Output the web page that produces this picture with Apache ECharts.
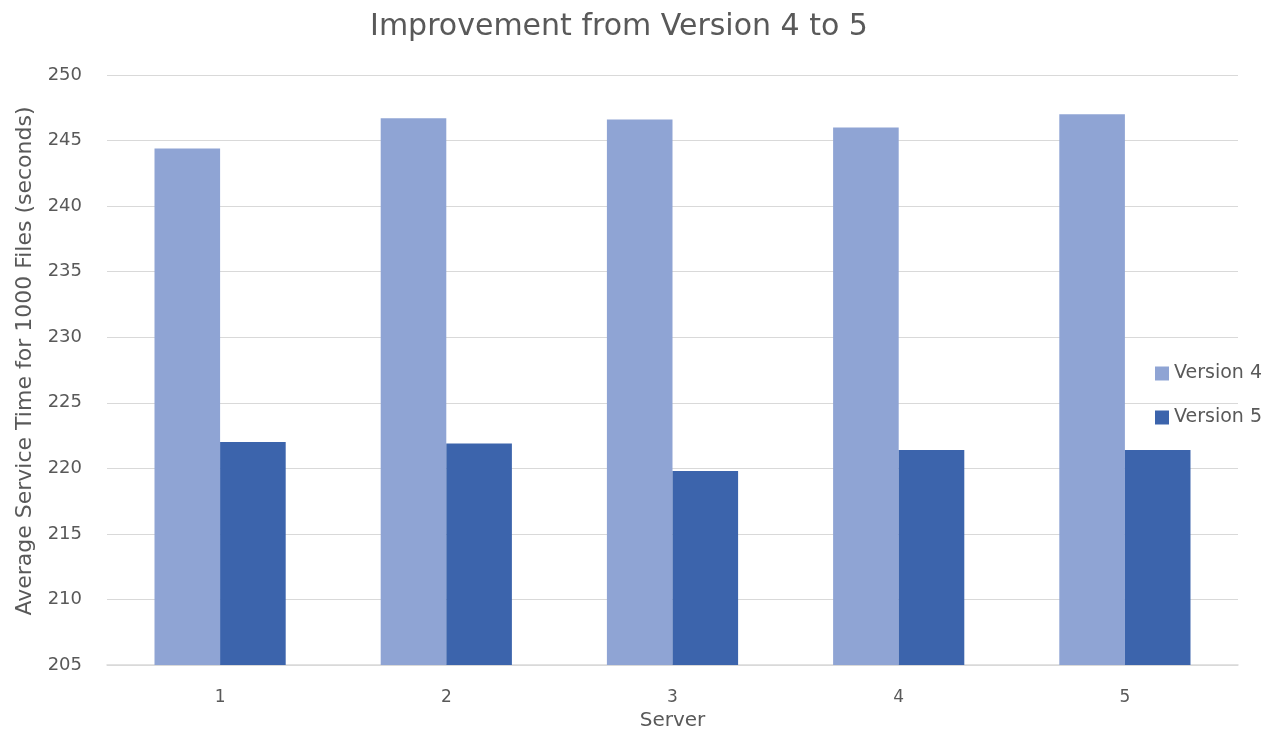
<!DOCTYPE html>
<html>
<head>
<meta charset="utf-8">
<script src="https://cdn.jsdelivr.net/npm/echarts@6/dist/echarts.min.js"></script>
<style>html,body{margin:0;padding:0;background:#fff;}#c{width:1266px;height:730px;}</style>
</head>
<body>
<div id="c"></div>
<script>
const categories = ['1', '2', '3', '4', '5'];
const version4 = [244.4, 246.7, 246.6, 246.0, 247.0];
const version5 = [222.0, 221.9, 219.8, 221.4, 221.4];
const seriesNames = ['Version 4', 'Version 5'];

const chart = echarts.init(document.getElementById('c'));
const font = '"DejaVu Sans", sans-serif';
chart.setOption({
  animation: false,
  title: {
    text: 'Improvement from Version 4 to 5',
    left: 614, top: 7, textAlign: 'center',
    textStyle: { fontFamily: font, fontSize: 30, fontWeight: 'normal', color: '#595959' }
  },
  legend: {
    orient: 'vertical', left: 1150, top: 359,
    itemWidth: 14, itemHeight: 14, itemGap: 25,
    icon: 'rect',
    textStyle: { fontFamily: font, fontSize: 19, color: '#595959' },
    data: seriesNames
  },
  grid: { left: 107, right: 28, top: 75, bottom: 65, outerBoundsMode: 'none', containLabel: false },
  xAxis: {
    type: 'category', data: categories,
    name: 'Server', nameLocation: 'middle', nameGap: 41,
    nameTextStyle: { fontFamily: font, fontSize: 20, color: '#595959' },
    axisLine: { lineStyle: { color: '#d9d9d9', width: 1.5 } },
    axisTick: { show: false },
    axisLabel: { fontFamily: font, fontSize: 17, color: '#595959', margin: 24 }
  },
  yAxis: {
    type: 'value', min: 205, max: 250, interval: 5,
    name: 'Average Service Time for 1000 Files (seconds)', nameLocation: 'middle', nameGap: 71,
    nameTextStyle: { fontFamily: font, fontSize: 22, color: '#595959', padding: [0, 0, 0, 18] },
    axisLine: { show: false }, axisTick: { show: false },
    axisLabel: { fontFamily: font, fontSize: 18, color: '#595959', margin: 25 },
    splitLine: { lineStyle: { color: '#d9d9d9', width: 1.2 } }
  },
  series: [
    { name: seriesNames[0], type: 'bar', data: version4, barWidth: '29%', barGap: '0%',
      itemStyle: { color: '#8fa4d4' } },
    { name: seriesNames[1], type: 'bar', data: version5, barWidth: '29%',
      itemStyle: { color: '#3c64ac' } }
  ]
});
</script>
</body>
</html>
